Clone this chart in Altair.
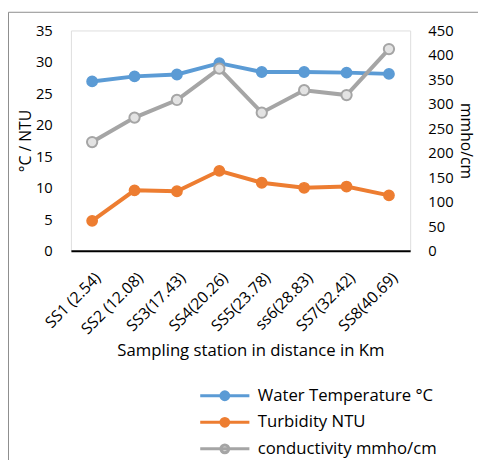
import altair as alt
import pandas as pd

stations = ["SS1 (2.54)", "SS2 (12.08)", "SS3(17.43)", "SS4(20.26)",
            "SS5(23.78)", "ss6(28.83)", "SS7(32.42)", "SS8(40.69)"]
temperature = [26.9, 27.7, 28.0, 29.8, 28.4, 28.4, 28.3, 28.1]
turbidity = [4.75, 9.6, 9.45, 12.7, 10.8, 10.0, 10.2, 8.8]
conductivity = [222, 272, 308, 372, 282, 328, 318, 412]

series_names = ["Water Temperature °C", "Turbidity NTU", "conductivity mmho/cm"]
stroke_colors = ["#5B9BD5", "#ED7D31", "#A5A5A5"]
fill_colors = ["#5B9BD5", "#ED7D31", "#E3E3E3"]
left_ticks = [0, 5, 10, 15, 20, 25, 30, 35]
right_ticks = [0, 50, 100, 150, 200, 250, 300, 350, 400, 450]

rows = []
for name, vals in zip(series_names, [temperature, turbidity, conductivity]):
    for s, v in zip(stations, vals):
        rows.append({"station": s, "series": name, "value": v})
df = pd.DataFrame(rows)

FONT = "Open Sans"
W, H = 345, 224

legend = alt.Legend(
    title=None, orient="none", legendX=148, legendY=363,
    symbolType="M-5,0H5M0.8,0A0.8,0.8 0 1,1 -0.8,0A0.8,0.8 0 1,1 0.8,0Z",
    symbolSize=100, symbolStrokeWidth=3, labelOffset=25,
    labelFontSize=17, labelFont=FONT, labelColor="#000",
    padding=0, rowPadding=6, labelLimit=400,
)
stroke_enc = alt.Stroke("series:N", scale=alt.Scale(domain=series_names, range=stroke_colors), legend=legend)
fill_enc = alt.Fill("series:N", scale=alt.Scale(domain=series_names, range=fill_colors), legend=legend)

x_enc = alt.X("station:N", sort=stations,
              scale=alt.Scale(type="point", padding=0.5),
              axis=alt.Axis(title="Sampling station in distance in Km", labelAngle=-45,
                            labelFontSize=16, labelFont=FONT, labelColor="#000",
                            titleFont=FONT, titleFontSize=17, titleFontWeight="normal",
                            titleColor="#000", titlePadding=6, titleX=182.5, ticks=False,
                            domainColor="#000", domainWidth=2, labelPadding=19))

left_y = alt.Y("value:Q", scale=alt.Scale(domain=[0, 35], nice=False),
               axis=alt.Axis(title="°C / NTU", values=left_ticks, grid=False, ticks=False,
                             domain=False, labelFontSize=15, labelFont=FONT, labelColor="#000",
                             labelPadding=19, titleFont=FONT, titleFontSize=16,
                             titleFontWeight="normal", titleColor="#000", titlePadding=2))
right_y = alt.Y("value:Q", scale=alt.Scale(domain=[0, 450], nice=False),
                axis=alt.Axis(title="mmho/cm", orient="right", values=right_ticks, grid=False,
                              ticks=False, domain=False, labelFontSize=15, labelFont=FONT,
                              labelColor="#000", labelPadding=18, titleFont=FONT,
                              titleFontSize=16, titleFontWeight="normal", titleColor="#000",
                              titlePadding=4))

base = alt.Chart(df)
left_data = base.transform_filter(alt.FieldOneOfPredicate(field="series", oneOf=series_names[:2]))
right_data = base.transform_filter(alt.datum.series == series_names[2])

left = alt.layer(
    left_data.mark_line(strokeWidth=4).encode(x=x_enc, y=left_y, stroke=stroke_enc, detail="series:N"),
    left_data.mark_point(filled=True, size=110, strokeWidth=1.5, opacity=1).encode(
        x=x_enc, y=left_y, stroke=stroke_enc, fill=fill_enc),
)
right = alt.layer(
    right_data.mark_line(strokeWidth=4).encode(x=x_enc, y=right_y, stroke=stroke_enc),
    right_data.mark_point(filled=True, size=110, strokeWidth=2, opacity=1).encode(
        x=x_enc, y=right_y, stroke=stroke_enc, fill=fill_enc),
)

border_data = alt.Data(values=[{"k": 1}])
border = alt.layer(
    alt.Chart(border_data).mark_rule(color="#8c8c8c", strokeWidth=1).encode(
        x=alt.value(-63.5), y=alt.value(-18.5), y2=alt.value(500)),
    alt.Chart(border_data).mark_rule(color="#8c8c8c", strokeWidth=1).encode(
        x=alt.value(-63.5), x2=alt.value(500), y=alt.value(-18.5)),
)

chart = alt.layer(left, right, border).resolve_scale(y="independent").properties(
    width=W, height=H,
    autosize=alt.AutoSizeParams(type="none"),
    padding={"left": 64, "top": 19, "right": 69, "bottom": 209},
).configure_view(stroke="#595959", strokeWidth=1.5).configure(background="white")

chart.save("out.html", embed_options={"renderer": "svg", "actions": False})
